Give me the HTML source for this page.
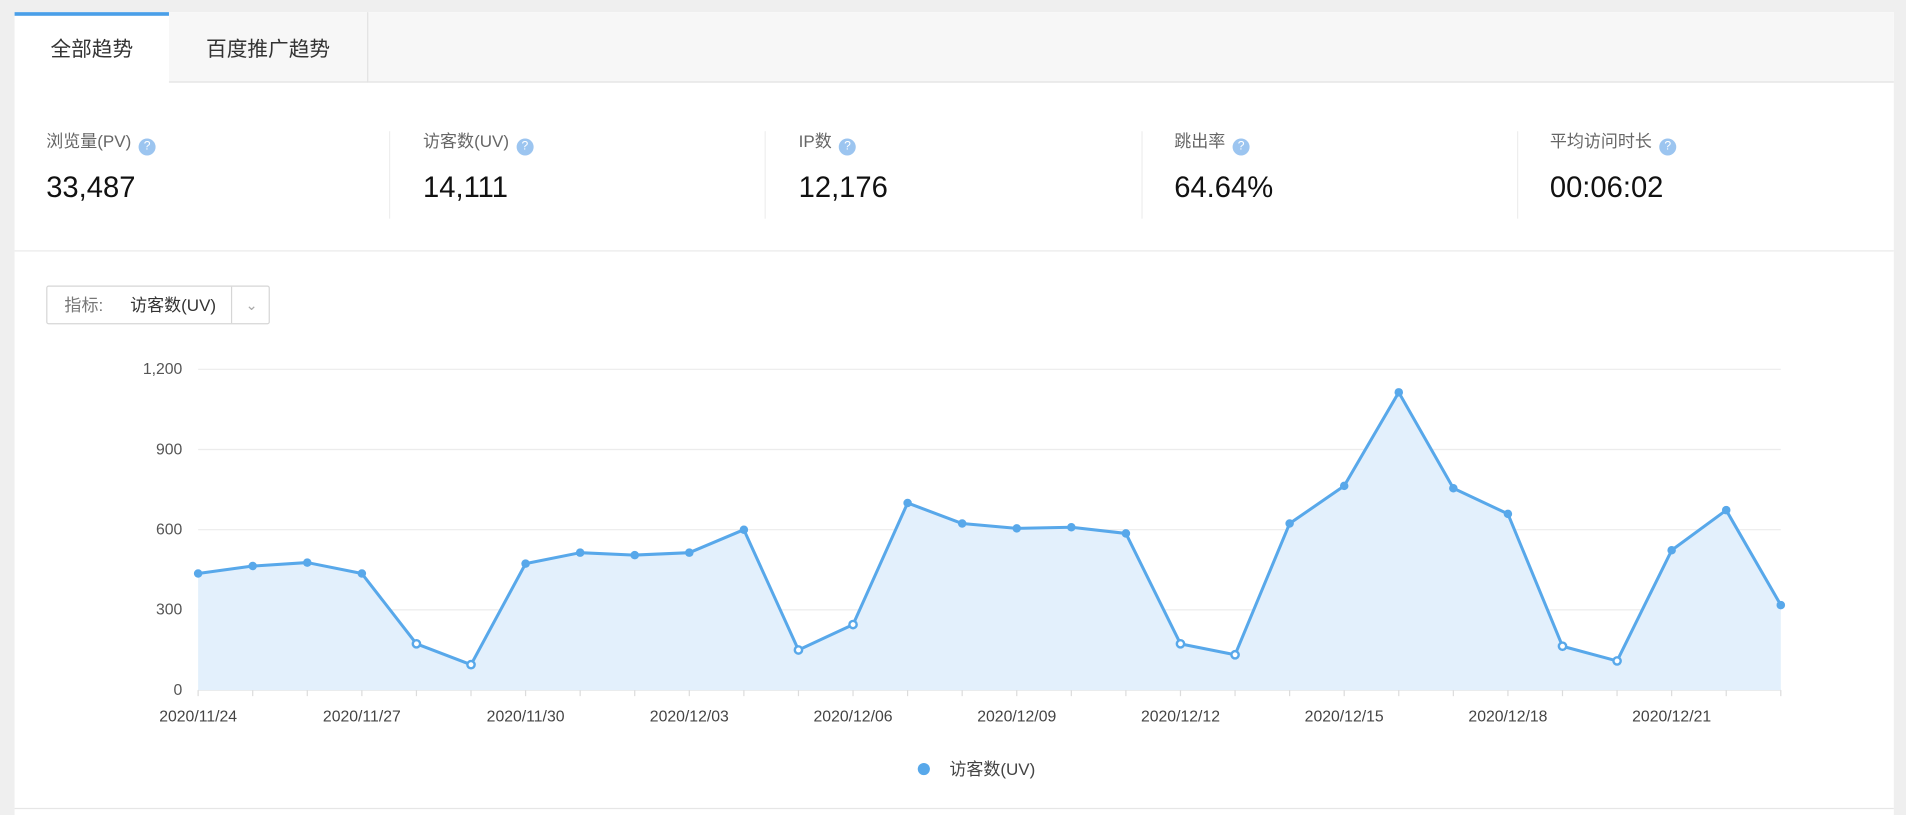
<!DOCTYPE html>
<html><head><meta charset="utf-8">
<style>
html,body{margin:0;padding:0;width:1906px;height:814px;overflow:hidden;background:#efefef;font-family:"Liberation Sans","Noto Sans CJK SC",sans-serif;}
#wrap{position:absolute;left:0;top:0;width:1568px;height:670px;transform:scale(1.21556,1.2149);transform-origin:0 0;}
.card{position:absolute;left:12px;top:10px;width:1546px;height:655px;background:#fff;}
.tabbar{position:absolute;left:0;top:0;width:1546px;height:58px;background:#f7f7f7;border-bottom:1px solid #e2e2e2;box-sizing:border-box;}
.tab{position:absolute;top:0;height:58px;line-height:62px;font-size:17px;color:#333;text-align:center;box-sizing:border-box;}
.t1{left:0;width:127px;background:#fff;border-top:3px solid #4a9fe8;height:59px;line-height:56px;}
.t2{left:127px;width:164px;border-right:1px solid #e2e2e2;}
.stat{position:absolute;top:96px;}
.lab{font-size:14px;color:#666;height:20px;line-height:20px;white-space:nowrap;}
.q{display:inline-block;width:14px;height:14px;border-radius:7px;background:#9cc5f0;color:#fff;font-size:10px;line-height:14px;text-align:center;vertical-align:-2px;margin-left:6px;}
.val{font-size:24px;color:#111;margin-top:15px;}
.sep{position:absolute;top:98px;width:1px;height:72px;background:#eee;}
.hr{position:absolute;left:0;top:196px;width:1546px;height:1px;background:#eaeaea;}
.dd{position:absolute;left:26px;top:225px;width:184px;height:32px;border:1px solid #d6d6d6;border-radius:2px;box-sizing:border-box;font-size:14px;line-height:30px;}
.dd .k{position:absolute;left:14px;color:#777;}
.dd .v{position:absolute;left:68px;color:#333;}
.dd .ar{position:absolute;left:151px;top:0;width:32px;height:30px;border-left:1px solid #d6d6d6;color:#aaa;text-align:center;font-size:12px;}
svg{position:absolute;left:0;top:0;}
</style></head><body>
<div id="wrap">
<div class="card">
 <div class="tabbar">
  <div class="tab t1">全部趋势</div>
  <div class="tab t2">百度推广趋势</div>
 </div>
 <div class="stat" style="left:26px"><div class="lab">浏览量(PV)<span class="q">?</span></div><div class="val">33,487</div></div>
 <div class="sep" style="left:308px"></div>
 <div class="stat" style="left:336px"><div class="lab">访客数(UV)<span class="q">?</span></div><div class="val">14,111</div></div>
 <div class="sep" style="left:617px"></div>
 <div class="stat" style="left:645px"><div class="lab">IP数<span class="q">?</span></div><div class="val">12,176</div></div>
 <div class="sep" style="left:927px"></div>
 <div class="stat" style="left:954px"><div class="lab">跳出率<span class="q">?</span></div><div class="val">64.64%</div></div>
 <div class="sep" style="left:1236px"></div>
 <div class="stat" style="left:1263px"><div class="lab">平均访问时长<span class="q">?</span></div><div class="val">00:06:02</div></div>
 <div class="hr"></div>
 <div class="dd"><span class="k">指标:</span><span class="v">访客数(UV)</span><span class="ar">&#8964;</span></div>
</div>
<div style="position:absolute;left:12px;top:665px;width:1546px;height:5px;background:#fff;border-top:1px solid #e6e6e6"></div>
<svg id="chart" width="1568" height="670"></svg>
</div>
<script>
const categories=["2020/11/24","2020/11/25","2020/11/26","2020/11/27","2020/11/28","2020/11/29","2020/11/30","2020/12/01","2020/12/02","2020/12/03","2020/12/04","2020/12/05","2020/12/06","2020/12/07","2020/12/08","2020/12/09","2020/12/10","2020/12/11","2020/12/12","2020/12/13","2020/12/14","2020/12/15","2020/12/16","2020/12/17","2020/12/18","2020/12/19","2020/12/20","2020/12/21","2020/12/22","2020/12/23"];
const uvValues=[436,464,477,436,173,95,473,514,505,514,600,150,245,700,623,605,609,586,173,132,623,764,1114,755,659,164,109,523,673,318];
const weekendFlags=[0,0,0,0,1,1,0,0,0,0,0,1,1,0,0,0,0,0,1,1,0,0,0,0,0,1,1,0,0,0];
const yTicks=[0,300,600,900,1200];
const NS="http://www.w3.org/2000/svg";
const svg=document.getElementById('chart');
const X0=163,X1=1465,Y0=568,Y1=304,YMAX=1200;
const xs=i=>X0+(X1-X0)*i/(categories.length-1);
const ys=v=>Y0-(Y0-Y1)*v/YMAX;
function mk(t,a){const e=document.createElementNS(NS,t);for(const k in a)e.setAttribute(k,a[k]);svg.appendChild(e);return e;}
yTicks.forEach(t=>{
 const l=mk('line',{x1:X0,x2:X1,y1:ys(t),y2:ys(t),stroke:t===0?'#dcdcdc':'#ececec','stroke-width':1});
 
 
 const tx=mk('text',{x:150,y:ys(t)+4,'text-anchor':'end','font-size':13,fill:'#555','font-family':'Liberation Sans,sans-serif'});
 tx.textContent=t.toLocaleString('en-US');
 
 
});
categories.forEach((c,i)=>{
 const tk=mk('line',{x1:xs(i),x2:xs(i),y1:Y0,y2:Y0+5,stroke:'#dcdcdc'});
 
 
 if(i%3===0){
  const tx=mk('text',{x:xs(i),y:Y0+26,'text-anchor':'middle','font-size':13,fill:'#444','font-family':'Liberation Sans,sans-serif'});
  tx.textContent=c;
  
  
 }
});
let d='';uvValues.forEach((v,i)=>{d+=(i?'L':'M')+xs(i)+','+ys(v);});
const area=mk('path',{d:d+'L'+xs(uvValues.length-1)+','+Y0+'L'+X0+','+Y0+'Z',fill:'#e3f0fc'});


const line=mk('path',{d:d,fill:'none',stroke:'#58a8ea','stroke-width':2.5,'stroke-linejoin':'round'});


uvValues.forEach((v,i)=>{
 const c=mk('circle',{cx:xs(i),cy:ys(v),r:weekendFlags[i]?3:3.5,fill:weekendFlags[i]?'#fff':'#58a8ea',stroke:'#58a8ea','stroke-width':weekendFlags[i]?2:0});
 
 
});
const ld=mk('circle',{cx:760,cy:633,r:5,fill:'#58a8ea'});


const lt=mk('text',{x:781,y:638,'font-size':14,fill:'#444','font-family':'Liberation Sans,Noto Sans CJK SC,sans-serif'});
lt.textContent='访客数(UV)';


</script>
</body></html>
